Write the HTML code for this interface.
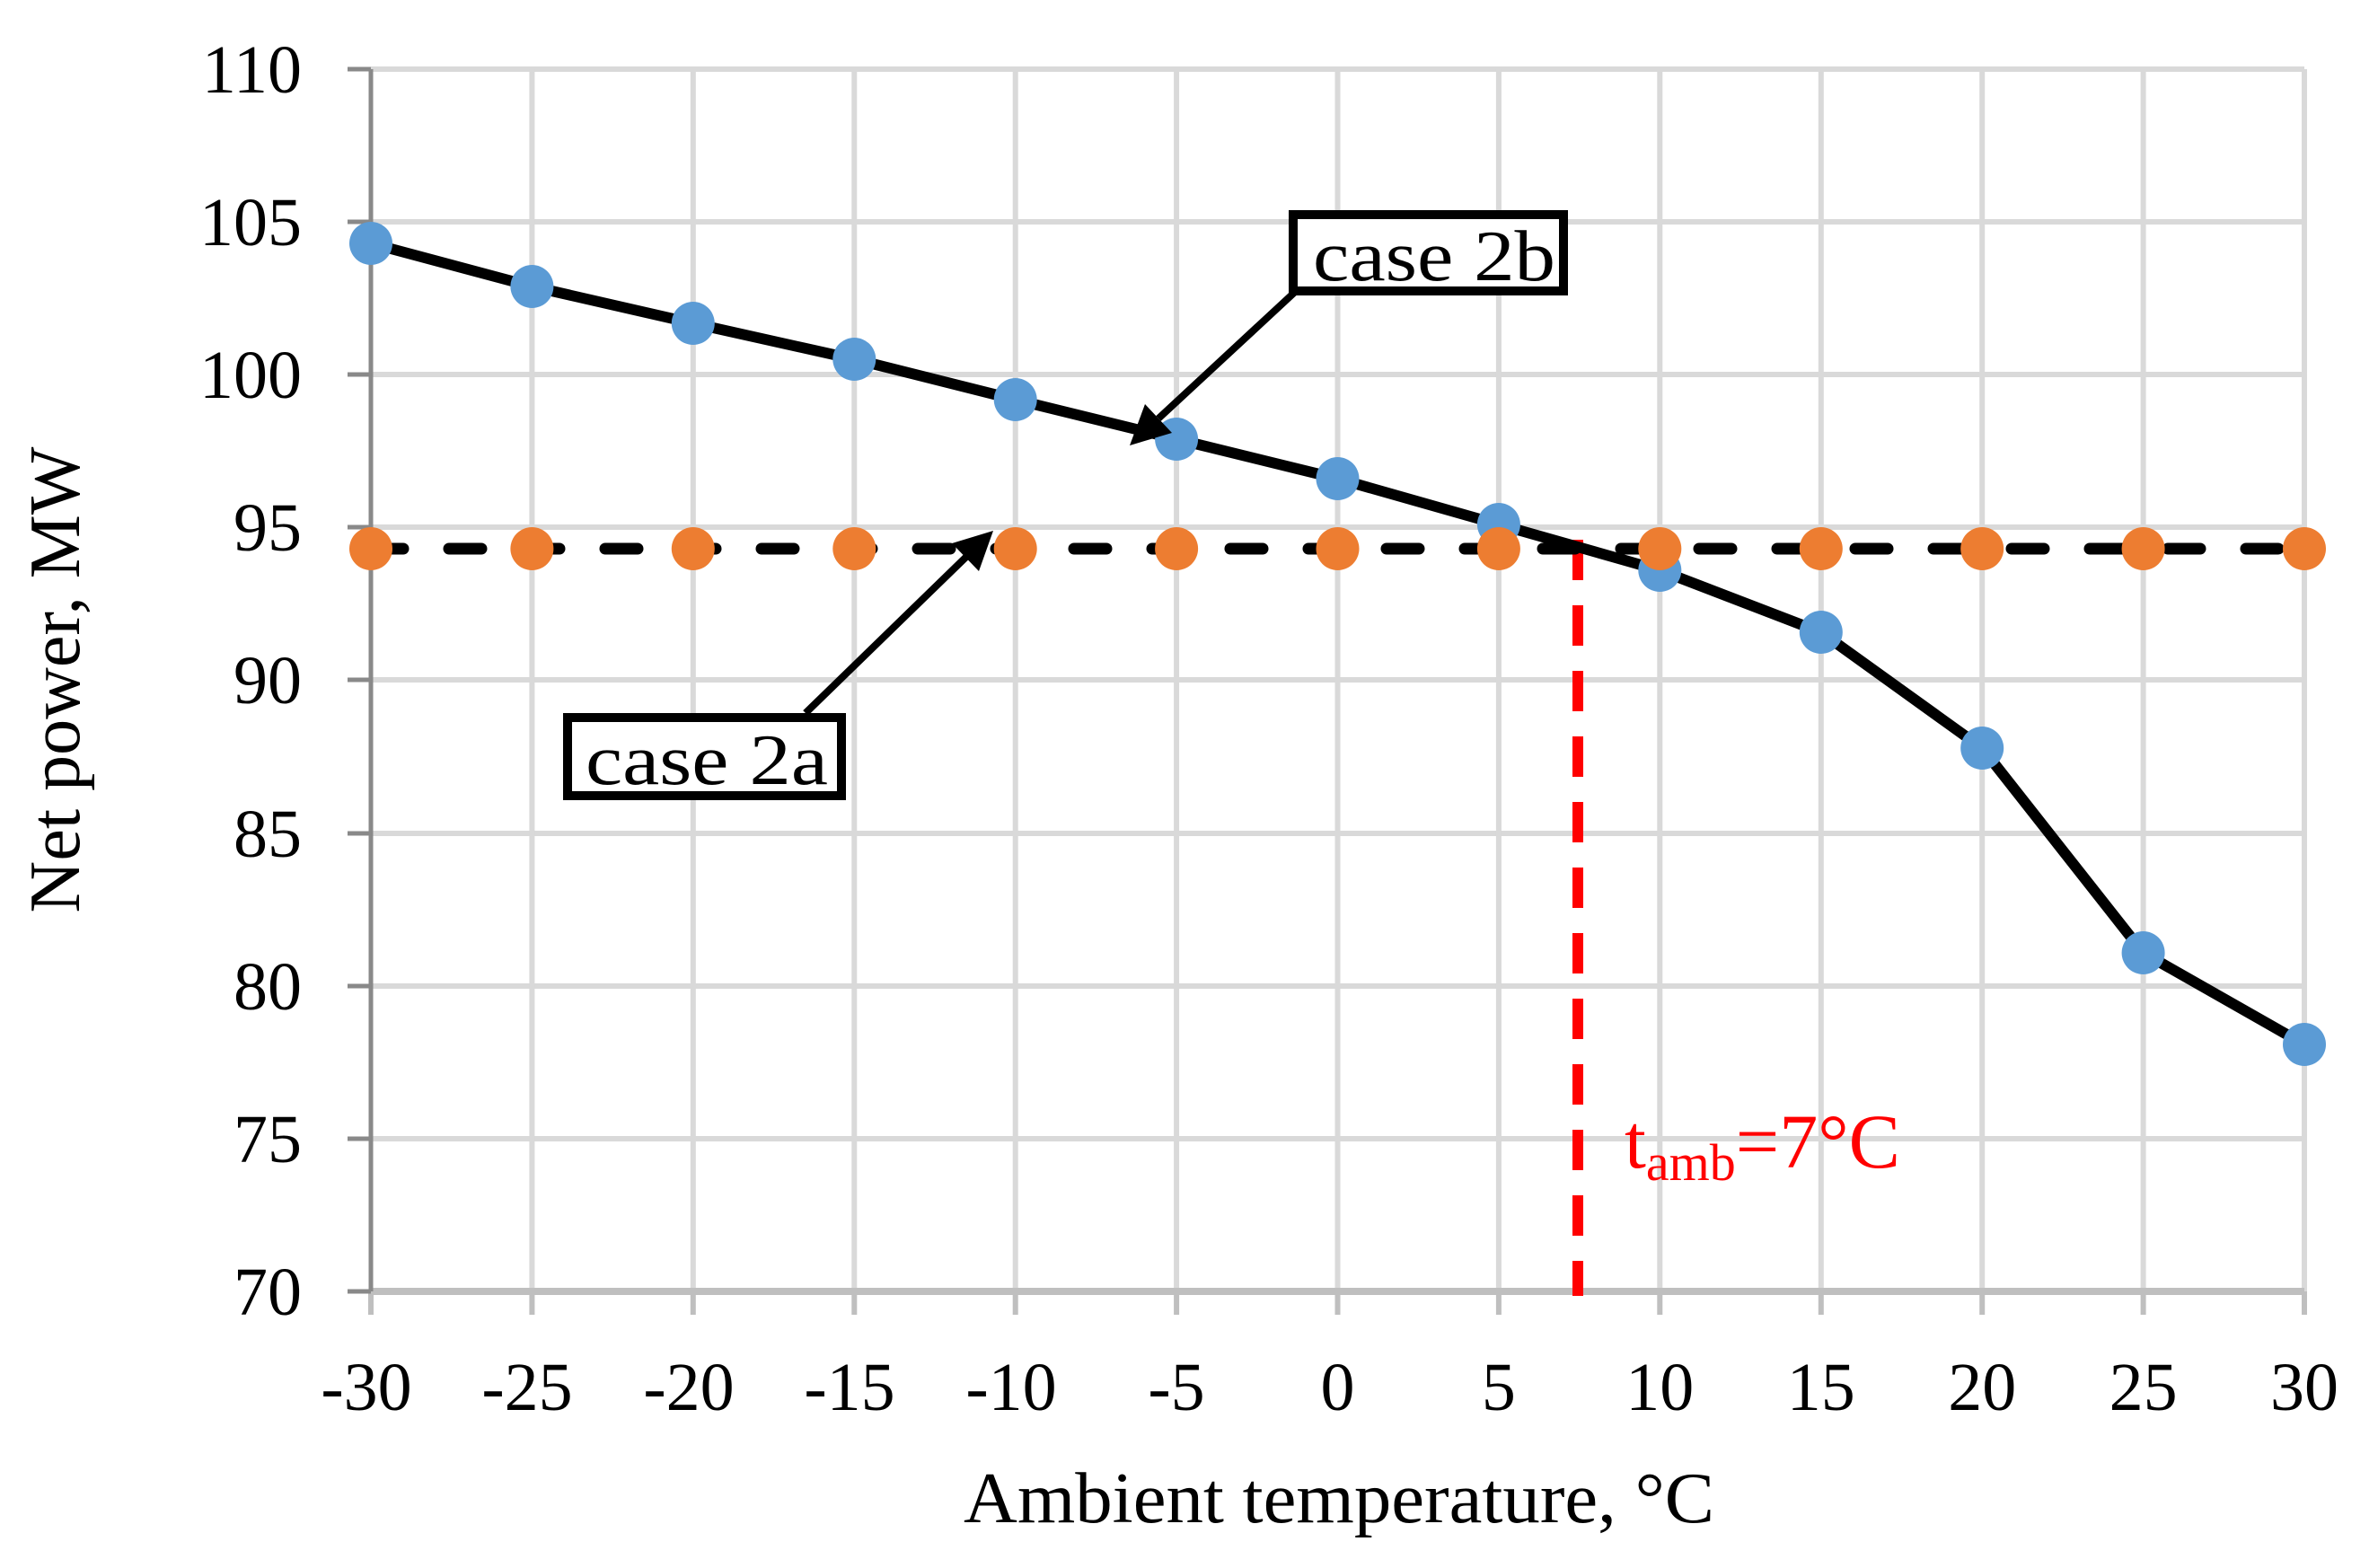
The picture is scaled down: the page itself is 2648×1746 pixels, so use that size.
<!DOCTYPE html>
<html><head><meta charset="utf-8"><style>html,body{margin:0;padding:0;background:#fff}svg{display:block}</style></head>
<body>
<svg width="2648" height="1746" viewBox="0 0 2648 1746" xmlns="http://www.w3.org/2000/svg" font-family="Liberation Serif, serif">
<rect width="2648" height="1746" fill="#fff"/>
<g stroke="#d9d9d9" stroke-width="6">
<line x1="413" y1="77" x2="2566" y2="77"/><line x1="413" y1="247" x2="2566" y2="247"/><line x1="413" y1="417" x2="2566" y2="417"/><line x1="413" y1="587" x2="2566" y2="587"/><line x1="413" y1="757" x2="2566" y2="757"/><line x1="413" y1="928" x2="2566" y2="928"/><line x1="413" y1="1098" x2="2566" y2="1098"/><line x1="413" y1="1268" x2="2566" y2="1268"/>
<line x1="592.4" y1="77" x2="592.4" y2="1438"/><line x1="771.8" y1="77" x2="771.8" y2="1438"/><line x1="951.3" y1="77" x2="951.3" y2="1438"/><line x1="1130.7" y1="77" x2="1130.7" y2="1438"/><line x1="1310.1" y1="77" x2="1310.1" y2="1438"/><line x1="1489.5" y1="77" x2="1489.5" y2="1438"/><line x1="1668.9" y1="77" x2="1668.9" y2="1438"/><line x1="1848.3" y1="77" x2="1848.3" y2="1438"/><line x1="2027.8" y1="77" x2="2027.8" y2="1438"/><line x1="2207.2" y1="77" x2="2207.2" y2="1438"/><line x1="2386.6" y1="77" x2="2386.6" y2="1438"/><line x1="2566" y1="77" x2="2566" y2="1438"/>
</g>
<g stroke="#bfbfbf" stroke-width="6">
<line x1="413" y1="1438" x2="413" y2="1464"/><line x1="592.4" y1="1438" x2="592.4" y2="1464"/><line x1="771.8" y1="1438" x2="771.8" y2="1464"/><line x1="951.3" y1="1438" x2="951.3" y2="1464"/><line x1="1130.7" y1="1438" x2="1130.7" y2="1464"/><line x1="1310.1" y1="1438" x2="1310.1" y2="1464"/><line x1="1489.5" y1="1438" x2="1489.5" y2="1464"/><line x1="1668.9" y1="1438" x2="1668.9" y2="1464"/><line x1="1848.3" y1="1438" x2="1848.3" y2="1464"/><line x1="2027.8" y1="1438" x2="2027.8" y2="1464"/><line x1="2207.2" y1="1438" x2="2207.2" y2="1464"/><line x1="2386.6" y1="1438" x2="2386.6" y2="1464"/><line x1="2566" y1="1438" x2="2566" y2="1464"/>
</g>
<line x1="413" y1="1438" x2="2566" y2="1438" stroke="#bfbfbf" stroke-width="8"/>
<g stroke="#898989" stroke-width="5">
<line x1="413" y1="77" x2="413" y2="1438"/>
<line x1="387" y1="77" x2="413" y2="77"/><line x1="387" y1="247" x2="413" y2="247"/><line x1="387" y1="417" x2="413" y2="417"/><line x1="387" y1="587" x2="413" y2="587"/><line x1="387" y1="757" x2="413" y2="757"/><line x1="387" y1="928" x2="413" y2="928"/><line x1="387" y1="1098" x2="413" y2="1098"/><line x1="387" y1="1268" x2="413" y2="1268"/><line x1="387" y1="1438" x2="413" y2="1438"/>
</g>
<g font-size="76" text-anchor="end" fill="#000">
<text x="336" y="103">110</text><text x="336" y="273">105</text><text x="336" y="443">100</text><text x="336" y="613">95</text><text x="336" y="783">90</text><text x="336" y="954">85</text><text x="336" y="1124">80</text><text x="336" y="1294">75</text><text x="336" y="1464">70</text>
</g>
<g font-size="76" text-anchor="middle" fill="#000">
<text x="408" y="1570">-30</text><text x="587" y="1570">-25</text><text x="767" y="1570">-20</text><text x="946" y="1570">-15</text><text x="1126" y="1570">-10</text><text x="1310" y="1570">-5</text><text x="1489.5" y="1570">0</text><text x="1668.9" y="1570">5</text><text x="1848.3" y="1570">10</text><text x="2027.8" y="1570">15</text><text x="2207.2" y="1570">20</text><text x="2386.6" y="1570">25</text><text x="2566" y="1570">30</text>
</g>
<text x="1491" y="1695" font-size="80" text-anchor="middle" textLength="836" lengthAdjust="spacingAndGlyphs">Ambient temperature, °C</text>
<text transform="translate(88,757) rotate(-90)" font-size="80" text-anchor="middle">Net power, MW</text>
<line x1="1757" y1="601" x2="1757" y2="1443" stroke="#ff0000" stroke-width="12" stroke-dasharray="45 28"/>
<line x1="413" y1="611" x2="2566" y2="611" stroke="#000" stroke-width="13" stroke-dasharray="36 51" stroke-linecap="round"/>
<polyline fill="none" stroke="#000" stroke-width="12" stroke-linejoin="round" points="413,271 592.4,319 771.8,360 951.3,400 1130.7,445 1310.1,489 1489.5,533 1668.9,584 1848.3,635 2027.8,704 2207.2,833 2386.6,1061 2566,1163"/>
<g fill="#5b9bd5">
<circle cx="413" cy="271" r="24"/><circle cx="592.4" cy="319" r="24"/><circle cx="771.8" cy="360" r="24"/><circle cx="951.3" cy="400" r="24"/><circle cx="1130.7" cy="445" r="24"/><circle cx="1310.1" cy="489" r="24"/><circle cx="1489.5" cy="533" r="24"/><circle cx="1668.9" cy="584" r="24"/><circle cx="1848.3" cy="635" r="24"/><circle cx="2027.8" cy="704" r="24"/><circle cx="2207.2" cy="833" r="24"/><circle cx="2386.6" cy="1061" r="24"/><circle cx="2566" cy="1163" r="24"/>
</g>
<g fill="#ed7d31">
<circle cx="413" cy="611" r="24"/><circle cx="592.4" cy="611" r="24"/><circle cx="771.8" cy="611" r="24"/><circle cx="951.3" cy="611" r="24"/><circle cx="1130.7" cy="611" r="24"/><circle cx="1310.1" cy="611" r="24"/><circle cx="1489.5" cy="611" r="24"/><circle cx="1668.9" cy="611" r="24"/><circle cx="1848.3" cy="611" r="24"/><circle cx="2027.8" cy="611" r="24"/><circle cx="2207.2" cy="611" r="24"/><circle cx="2386.6" cy="611" r="24"/><circle cx="2566" cy="611" r="24"/>
</g>
<line x1="1441" y1="326" x2="1290" y2="466" stroke="#000" stroke-width="8"/>
<polygon points="1258,496 1275,450 1305,482" fill="#000"/>
<rect x="1440" y="239" width="301" height="85" fill="#fff" stroke="#000" stroke-width="10"/>
<text x="1462" y="312" font-size="80" textLength="270" lengthAdjust="spacingAndGlyphs">case 2b</text>
<line x1="897" y1="794" x2="1076" y2="620" stroke="#000" stroke-width="8"/>
<polygon points="1106,591 1090,636 1060,605" fill="#000"/>
<rect x="632" y="799" width="305" height="87" fill="#fff" stroke="#000" stroke-width="10"/>
<text x="652" y="873" font-size="80" textLength="270" lengthAdjust="spacingAndGlyphs">case 2a</text>
<text x="1809" y="1300" font-size="86" fill="#ff0000">t<tspan font-size="58" dy="14">amb</tspan><tspan dy="-14">=7°C</tspan></text>
</svg>
</body></html>
